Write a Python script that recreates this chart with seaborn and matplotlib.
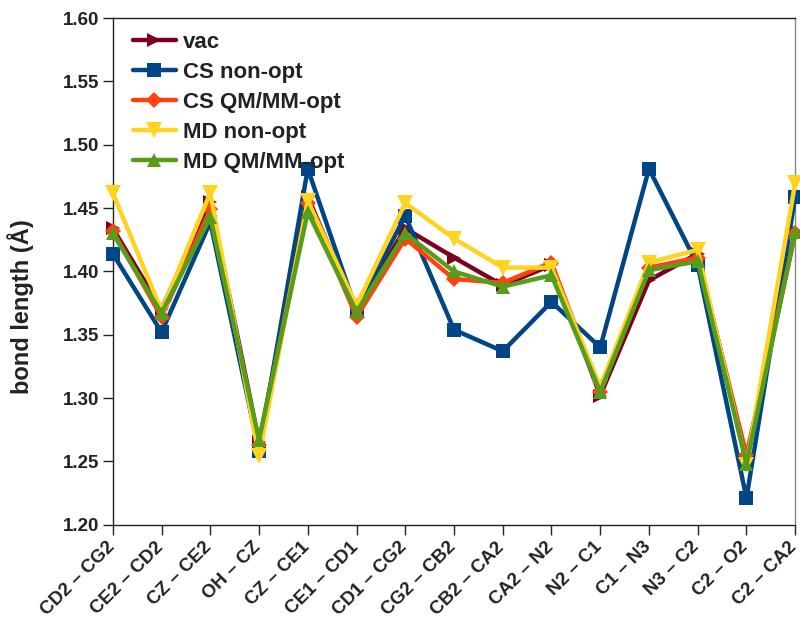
import matplotlib
matplotlib.use("Agg")
import matplotlib.pyplot as plt
import matplotlib.transforms as mtransforms
import seaborn as sns
import pandas as pd

bonds = ["CD2 – CG2", "CE2 – CD2", "CZ – CE2", "OH – CZ", "CZ – CE1",
         "CE1 – CD1", "CD1 – CG2", "CG2 – CB2", "CB2 – CA2", "CA2 – N2",
         "N2 – C1", "C1 – N3", "N3 – C2", "C2 – O2", "C2 – CA2"]

vac = [1.434, 1.370, 1.455, 1.265, 1.459, 1.369, 1.434, 1.411, 1.389, 1.405,
       1.302, 1.393, 1.414, 1.251, 1.432]
cs_nonopt = [1.414, 1.352, 1.439, 1.258, 1.481, 1.369, 1.444, 1.354, 1.337, 1.376,
             1.340, 1.481, 1.405, 1.221, 1.459]
cs_qmmm = [1.432, 1.364, 1.449, 1.263, 1.454, 1.364, 1.426, 1.394, 1.391, 1.407,
           1.305, 1.403, 1.411, 1.255, 1.430]
md_nonopt = [1.462, 1.369, 1.462, 1.254, 1.456, 1.373, 1.454, 1.426, 1.403, 1.403,
             1.309, 1.407, 1.417, 1.247, 1.470]
md_qmmm = [1.430, 1.367, 1.443, 1.267, 1.447, 1.368, 1.430, 1.400, 1.388, 1.397,
           1.305, 1.401, 1.408, 1.248, 1.431]

series_names = ["vac", "CS non-opt", "CS QM/MM-opt", "MD non-opt", "MD QM/MM-opt"]
series_values = [vac, cs_nonopt, cs_qmmm, md_nonopt, md_qmmm]
colors = ["#7E0021", "#004586", "#FF420E", "#FFD320", "#579D1C"]
markers = [">", "s", "D", "v", "^"]
msizes = [10, 10, 8, 11, 10]

rows = []
for name, vals in zip(series_names, series_values):
    for i, v in enumerate(vals):
        rows.append({"series": name, "pos": i, "bond": bonds[i], "length": v})
df = pd.DataFrame(rows)

sns.set_style("white")
plt.rcParams["font.family"] = ["Liberation Sans", "DejaVu Sans"]
plt.rcParams["font.weight"] = "bold"

fig = plt.figure(figsize=(8.0, 6.24), dpi=100)
ax = fig.add_axes([0.141, 0.159, 0.853, 0.812])

for name, col, mk, ms in zip(series_names, colors, markers, msizes):
    sub = df[df["series"] == name]
    sns.lineplot(data=sub, x="pos", y="length", ax=ax, color=col, marker=mk,
                 markersize=ms, markeredgewidth=0, linewidth=3.2, label=name,
                 clip_on=False, zorder=3)

ax.set_xlim(0, len(bonds) - 1)
ax.set_ylim(1.20, 1.60)
ax.tick_params(axis="both", direction="out", length=7, width=1, color="#222222",
               left=True, bottom=True, pad=3)
ax.set_xticks(range(len(bonds)))
ax.set_xticklabels(bonds, rotation=45, ha="right", rotation_mode="anchor",
                   fontsize=13.5, fontweight="bold", color="#222222")
yt = [1.20, 1.25, 1.30, 1.35, 1.40, 1.45, 1.50, 1.55, 1.60]
ax.set_yticks(yt)
ax.set_yticklabels([f"{t:.2f}" for t in yt], fontsize=13.5, fontweight="bold",
                   color="#222222")

# pull the rotated labels a little to the left so the last one stays inside
shift = mtransforms.ScaledTranslation(-7 / 100, 0, fig.dpi_scale_trans)
for lab in ax.xaxis.get_majorticklabels():
    lab.set_transform(lab.get_transform() + shift)

ax.set_xlabel("")
ax.set_ylabel("bond length (Å)", fontsize=17, fontweight="bold", color="#222222")
ax.yaxis.set_label_coords(-0.115, 0.43)

for side in ["left", "bottom", "top"]:
    ax.spines[side].set_color("#222222")
    ax.spines[side].set_linewidth(1)
ax.spines["right"].set_color("#888888")
ax.spines["right"].set_linewidth(1)

leg = ax.legend(loc="upper left", bbox_to_anchor=(0.0, 1.012), frameon=False,
                handlelength=1.95, handletextpad=0.3, labelspacing=0.4,
                prop={"size": 16, "weight": "bold"})
for t in leg.get_texts():
    t.set_color("#222222")

fig.savefig("out.png", dpi=100)
